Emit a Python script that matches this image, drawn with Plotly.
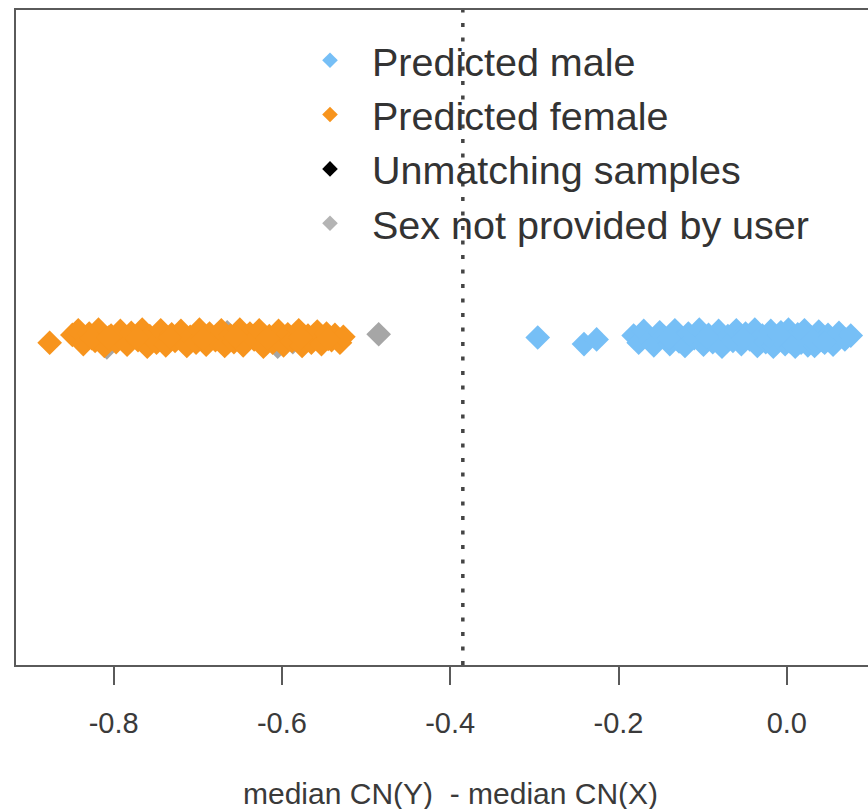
import plotly.graph_objects as go

# ---- data ----
male_x = [-0.296, -0.241, -0.226, -0.182, -0.176, -0.170, -0.163, -0.158, -0.151, -0.146,
          -0.139, -0.133, -0.128, -0.121, -0.117, -0.110, -0.104, -0.099, -0.093, -0.088,
          -0.081, -0.077, -0.070, -0.064, -0.060, -0.054, -0.049, -0.044, -0.038, -0.035,
          -0.029, -0.025, -0.019, -0.016, -0.011, -0.007, -0.002, 0.002, 0.006, 0.010,
          0.013, 0.017, 0.021, 0.025, 0.029, 0.033, 0.038, 0.043, 0.049, 0.055,
          0.062, 0.069, 0.076, -0.140, -0.095, -0.052, -0.021, 0.004, 0.019, 0.031,
          -0.009, 0.045]
male_y = [1.000, 0.990, 0.997, 1.003, 0.992, 1.010, 0.996, 0.988, 1.008, 1.001,
          0.990, 1.011, 0.994, 0.987, 1.006, 0.999, 1.012, 0.989, 1.004, 0.993,
          1.010, 0.986, 1.002, 0.995, 1.011, 0.990, 1.006, 0.997, 1.012, 0.987,
          1.003, 0.993, 1.010, 0.986, 0.999, 1.008, 0.990, 1.012, 0.996, 0.986,
          1.005, 0.992, 1.011, 0.988, 1.000, 0.987, 1.009, 0.995, 1.004, 0.989,
          1.007, 0.997, 1.003, 0.999, 1.001, 0.998, 1.002, 0.994, 1.006, 0.996,
          1.004, 0.992]

female_x = [-0.876, -0.849, -0.842, -0.836, -0.829, -0.822, -0.818, -0.811, -0.803, -0.797,
            -0.792, -0.784, -0.779, -0.771, -0.766, -0.760, -0.757, -0.749, -0.744, -0.738,
            -0.731, -0.727, -0.720, -0.713, -0.709, -0.702, -0.698, -0.690, -0.686, -0.679,
            -0.672, -0.668, -0.661, -0.657, -0.650, -0.646, -0.638, -0.633, -0.627, -0.622,
            -0.615, -0.611, -0.604, -0.598, -0.593, -0.588, -0.580, -0.576, -0.569, -0.565,
            -0.558, -0.553, -0.547, -0.541, -0.537, -0.531, -0.527, -0.772, -0.733, -0.694,
            -0.655, -0.617, -0.578, -0.545, -0.826, -0.806]
female_y = [0.992, 1.004, 1.011, 0.990, 1.006, 0.995, 1.012, 0.987, 1.003, 0.993,
            1.010, 0.989, 1.007, 0.996, 1.012, 0.986, 1.002, 0.992, 1.011, 0.988,
            1.005, 0.995, 1.010, 0.987, 1.001, 0.992, 1.012, 0.989, 1.006, 0.996,
            1.011, 0.987, 1.003, 0.993, 1.012, 0.988, 1.006, 0.997, 1.011, 0.986,
            1.002, 0.992, 1.010, 0.988, 1.005, 0.995, 1.011, 0.987, 1.003, 0.992,
            1.009, 0.990, 1.006, 0.996, 1.004, 0.992, 1.001, 0.999, 1.000, 0.998,
            1.001, 0.999, 1.000, 0.998, 0.999, 1.000]

unmatch_x = [None]
unmatch_y = [None]

nosex_x = [-0.808, -0.665, -0.605, -0.587, -0.485]
nosex_y = [0.985, 1.008, 0.986, 0.993, 1.005]

threshold = -0.385

tick_vals = [-0.8, -0.6, -0.4, -0.2, 0.0]
tick_text = ["-0.8", "-0.6", "-0.4", "-0.2", "0.0"]

x_range = [-0.916, 0.0965]
y_range = [0.5, 1.5]

# ---- styles ----
BLUE = "#76BFF6"
ORANGE = "#F7941D"
BLACK = "#000000"
GRAY = "#A6A6A6"
AXIS = "#5a5a5a"
FONT = "Liberation Sans, Arial, sans-serif"
MS = 19

fig = go.Figure()

fig.add_trace(go.Scatter(x=male_x, y=male_y, mode="markers", name="Predicted male",
                         marker=dict(symbol="diamond", size=MS, color=BLUE, line=dict(width=0))))
fig.add_trace(go.Scatter(x=nosex_x, y=nosex_y, mode="markers", name="Sex not provided by user",
                         marker=dict(symbol="diamond", size=MS, color=GRAY, line=dict(width=0)),
                         showlegend=False, legendgroup="nosex"))
fig.add_trace(go.Scatter(x=female_x, y=female_y, mode="markers", name="Predicted female",
                         marker=dict(symbol="diamond", size=MS, color=ORANGE, line=dict(width=0))))
fig.add_trace(go.Scatter(x=unmatch_x, y=unmatch_y, mode="markers", name="Unmatching samples",
                         marker=dict(symbol="diamond", size=MS, color=BLACK, line=dict(width=0))))
fig.add_trace(go.Scatter(x=[None], y=[None], mode="markers", name="Sex not provided by user",
                         marker=dict(symbol="diamond", size=MS, color="#B4B4B4", line=dict(width=0)),
                         legendgroup="nosex"))

fig.add_shape(type="line", xref="x", yref="paper", x0=threshold, x1=threshold, y0=0, y1=1,
              line=dict(color="#444444", width=3.5, dash="4px,10.5px"), layer="above")

fig.add_annotation(text="median CN(Y)  - median CN(X)", xref="paper", yref="paper",
                   x=(450 - 16) / 852, y=(665 - 793) / 655, xanchor="center", yanchor="middle",
                   showarrow=False, font=dict(family=FONT, size=30, color="#3a3a3a"))

fig.update_layout(
    width=868, height=809,
    margin=dict(l=16, r=0, t=10, b=144, autoexpand=False),
    paper_bgcolor="white", plot_bgcolor="white",
    font=dict(family=FONT),
    showlegend=True,
    legend=dict(
        xref="container", yref="container",
        x=288 / 868, y=(809 - 28) / 809, xanchor="left", yanchor="top",
        bgcolor="rgba(0,0,0,0)", borderwidth=0,
        font=dict(family=FONT, size=39.5, color="#333333"),
        itemsizing="constant", traceorder="normal", itemwidth=74,
        tracegroupgap=0,
    ),
    xaxis=dict(range=x_range, showgrid=False, zeroline=False,
               showline=True, linecolor=AXIS, linewidth=2, mirror=True,
               ticks="outside", ticklen=18, tickwidth=2, tickcolor=AXIS,
               tickvals=tick_vals, ticktext=tick_text, ticklabelstandoff=13,
               tickangle=0,
               tickfont=dict(family=FONT, size=29, color="#3a3a3a")),
    yaxis=dict(range=y_range, showgrid=False, zeroline=False,
               showline=True, linecolor=AXIS, linewidth=2, mirror=False,
               showticklabels=False, ticks=""),
)

fig.write_html("out.html")
